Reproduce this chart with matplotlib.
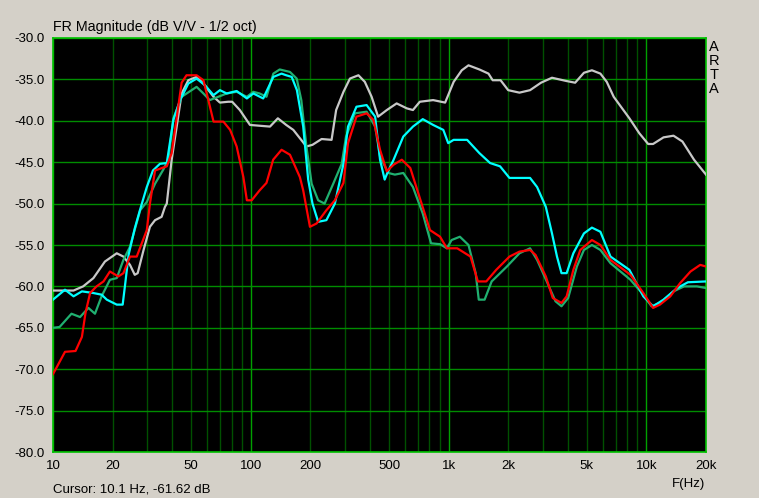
import numpy as np
import matplotlib.pyplot as plt

# ARTA frequency response, 1/2 octave smoothing
red_f = [10, 11.5, 13, 14, 14.6, 15.4, 16.6, 18, 19.4, 21.4, 22.7, 24.5, 26.5, 29.8, 30.9, 32.8,
         37.6, 39.8, 43.2, 44.7, 47.3, 53.2, 57.6, 61, 64.8, 72.7, 78.6, 84.8, 91.7, 95.5, 101,
         110.8, 120, 129.7, 143, 157.7, 177, 184, 199, 215, 241, 266, 294, 310, 342, 385, 417,
         450, 487, 527, 580, 640, 710, 805, 905, 980, 1105, 1290, 1405, 1550, 1740, 2030, 2280,
         2580, 2750, 3100, 3360, 3720, 3950, 4270, 4630, 5300, 5850, 6580, 8300, 9640, 10800,
         11700, 13200, 14800, 16700, 18700, 20000]
red_db = [-70.6, -67.9, -67.8, -66.1, -63.2, -60.8, -60.0, -59.4, -58.2, -58.8, -58.4, -56.4, -56.4,
          -53.2, -50.0, -46.0, -45.5, -43.9, -37.9, -35.4, -34.5, -34.5, -35.1, -37.5, -40.1, -40.1,
          -41.1, -43.1, -46.8, -49.6, -49.6, -48.4, -47.5, -44.7, -43.5, -44.1, -46.8, -48.4, -52.8,
          -52.4, -50.8, -49.6, -47.5, -42.7, -39.5, -39.1, -39.9, -43.5, -46.1, -45.3, -44.7, -45.7,
          -49.1, -53.2, -54.0, -55.4, -55.4, -56.4, -59.4, -59.4, -58.0, -56.4, -55.8, -55.6, -56.2,
          -58.8, -61.4, -62.0, -61.2, -58.0, -55.6, -54.4, -55.0, -56.8, -58.6, -60.8, -62.6, -62.2,
          -61.2, -59.6, -58.2, -57.4, -57.6]

green_f = [10, 10.8, 12.4, 13.7, 15.1, 16.3, 17.6, 19.4, 21, 22.7, 24.5, 27.6, 29.8, 32.8, 36.1,
           38.3, 40.6, 44.7, 53.2, 57.6, 62, 68.5, 75.5, 84.8, 95.5, 103, 110.8, 120, 130, 140,
           157.7, 170.6, 180, 191, 203, 219, 236, 261, 288, 303, 336, 385, 425, 450, 495, 535, 590,
           660, 740, 815, 905, 980, 1035, 1140, 1260, 1370, 1420, 1520, 1650, 1970, 2280, 2580,
           2800, 3160, 3470, 3720, 4020, 4450, 4830, 5300, 5850, 6580, 8300, 9640, 10600, 11700,
           13700, 15500, 18000, 20000]
green_db = [-65.0, -64.9, -63.3, -63.7, -62.6, -63.3, -61.2, -59.2, -59.0, -56.8, -55.2, -50.8, -49.8,
            -47.6, -45.9, -44.7, -39.7, -37.1, -35.9, -36.7, -37.5, -37.1, -36.7, -36.5, -37.1, -36.5,
            -36.7, -37.1, -34.3, -33.8, -34.1, -34.9, -37.5, -43.1, -47.6, -49.6, -50.0, -47.6, -45.2,
            -41.9, -39.1, -38.9, -40.7, -44.3, -46.3, -46.5, -46.3, -48.0, -51.2, -54.8, -54.9, -55.4,
            -54.4, -54.0, -55.0, -58.4, -61.6, -61.6, -59.4, -57.6, -56.0, -55.4, -56.8, -59.6, -61.8,
            -62.4, -61.4, -57.6, -55.6, -55.0, -55.6, -57.2, -59.2, -61.0, -62.4, -62.0, -60.6, -60.0,
            -60.0, -60.2]

cyan_f = [10, 11.5, 12.7, 14, 16, 17.6, 18.7, 21, 22.5, 23.2, 24.1, 25.9, 27.5, 29.8, 32, 34.7,
          37.6, 40.6, 43.9, 48.3, 53.2, 58.6, 64.8, 69.8, 75.5, 84.8, 95.5, 103, 115.5, 130, 143,
          151, 161, 171, 184, 195, 205, 219, 241, 266, 294, 310, 342, 385, 425, 450, 475, 490, 527,
          590, 660, 740, 835, 940, 995, 1060, 1240, 1430, 1620, 1820, 2030, 2580, 2800, 3100, 3330,
          3530, 3720, 3950, 4270, 4830, 5300, 5850, 6580, 8200, 9640, 10800, 12200, 14300, 16200,
          20000]
cyan_db = [-61.6, -60.4, -61.2, -60.6, -60.8, -61.0, -61.6, -62.2, -62.2, -59.6, -56.2, -53.0, -50.8,
           -48.0, -46.0, -45.2, -45.1, -39.9, -37.5, -35.5, -34.9, -35.7, -36.9, -36.3, -36.7, -36.4,
           -37.3, -36.7, -37.3, -34.7, -34.3, -34.5, -34.7, -36.3, -40.7, -47.1, -50.0, -52.2, -52.0,
           -50.0, -45.2, -40.7, -38.3, -38.1, -39.5, -44.7, -47.1, -46.3, -44.7, -41.9, -40.7, -39.8,
           -40.5, -41.1, -42.7, -42.3, -42.3, -43.9, -45.1, -45.5, -46.9, -46.9, -48.0, -50.4, -53.6,
           -56.4, -58.4, -58.4, -56.0, -53.6, -52.9, -53.4, -56.4, -58.0, -61.2, -62.4, -61.6, -60.2,
           -59.5, -59.4]

gray_f = [10, 12.7, 14.2, 16, 18.3, 21, 22.7, 24.5, 25.9, 26.8, 28.7, 30.9, 32.8, 35.4, 36.8, 37.6,
          39.8, 42.2, 44.7, 48.3, 53.2, 57.6, 64.8, 69.8, 76.8, 80.5, 88, 99, 125, 137, 151, 164,
          191, 205, 228, 256, 270, 294, 317, 350, 377, 408, 440, 487, 546, 615, 660, 715, 835, 960,
          1060, 1165, 1260, 1430, 1590, 1670, 1830, 2000, 2280, 2580, 2930, 3330, 3950, 4360, 4830,
          5300, 5850, 6300, 6830, 8200, 9200, 10200, 10800, 12200, 13700, 15200, 17400, 20000]
gray_db = [-60.5, -60.5, -60.0, -59.0, -57.0, -56.0, -56.4, -57.4, -58.6, -58.4, -55.6, -52.8, -52.0,
           -51.6, -50.4, -50.0, -44.7, -40.7, -36.7, -35.1, -34.7, -35.5, -37.1, -37.8, -37.7, -37.7,
           -38.7, -40.5, -40.7, -39.7, -40.5, -41.1, -43.1, -42.9, -42.2, -42.3, -38.7, -36.5, -34.9,
           -34.5, -35.3, -37.1, -39.5, -38.7, -37.9, -38.5, -38.7, -37.7, -37.5, -37.8, -35.3, -33.9,
           -33.3, -33.8, -34.3, -35.1, -35.1, -36.3, -36.6, -36.3, -35.4, -34.8, -35.2, -35.4, -34.2,
           -33.9, -34.3, -35.3, -37.1, -39.7, -41.5, -42.8, -42.8, -42.0, -41.8, -42.5, -44.7, -46.5]

xtick_vals = [10, 20, 50, 100, 200, 500, 1000, 2000, 5000, 10000, 20000]
xtick_labels = ['10', '20', '50', '100', '200', '500', '1k', '2k', '5k', '10k', '20k']
ytick_vals = [-80, -75, -70, -65, -60, -55, -50, -45, -40, -35, -30]

decades = [10, 100, 1000, 10000]
minors = [m * d for d in decades for m in range(2, 10) if m * d < 20000]

bg = '#D4D0C8'
plt.rcParams['font.family'] = ['Liberation Sans', 'DejaVu Sans']

fig = plt.figure(figsize=(7.59, 4.98), dpi=100, facecolor=bg)
ax = fig.add_axes([53/759, 46/498, 653/759, 414/498])
ax.set_facecolor('black')
ax.set_xscale('log')
ax.set_xlim(10, 20000)
ax.set_ylim(-80, -30)

for f in minors:
    ax.axvline(f, color='#005000', lw=1, zorder=1)
for f in decades:
    ax.axvline(f, color='#00A000', lw=1, zorder=1)
for y in ytick_vals:
    ax.axhline(y, color='#008C00', lw=1, zorder=1)

ax.plot(gray_f, gray_db, color='#C8C8C8', lw=1.6, zorder=3)
ax.plot(cyan_f, cyan_db, color='#00FFFF', lw=1.6, zorder=4)
ax.plot(green_f, green_db, color='#20B070', lw=1.6, zorder=3)
ax.plot(red_f, red_db, color='#FF0000', lw=1.6, zorder=5)

for s in ax.spines.values():
    s.set_color('#00C000')
    s.set_linewidth(1.2)

ax.set_xticks(xtick_vals)
ax.set_xticklabels(xtick_labels)
ax.set_xticks([], minor=True)
ax.set_yticks(ytick_vals)
ax.set_yticklabels(['%.1f' % v for v in ytick_vals])
ax.tick_params(length=0, labelsize=9.5, colors='black', pad=6)

fig.text(53/759, 1 - 27/498, 'FR Magnitude (dB V/V - 1/2 oct)', fontsize=10.3, va='center', ha='left')
for i, ch in enumerate('ARTA'):
    fig.text(714/759, 1 - (47 + 14*i)/498, ch, fontsize=10.5, va='center', ha='center')
fig.text(53/759, 1 - 489/498, 'Cursor: 10.1 Hz, -61.62 dB', fontsize=9.5, va='center', ha='left')
fig.text(705/759, 1 - 484/498, 'F(Hz)', fontsize=9.5, va='center', ha='right')

fig.savefig('out.png', dpi=100, facecolor=bg)
